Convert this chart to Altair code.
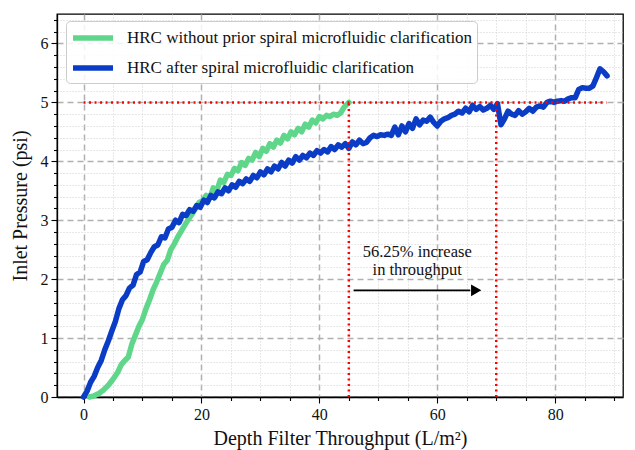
import altair as alt
import pandas as pd

# --- data ---
green_x = [1.0, 1.8, 2.6, 3.4, 4.2, 5.0, 5.8, 6.4, 7.0, 7.6, 8.2, 8.8, 9.4, 10.0, 10.6, 11.2, 11.8, 12.4,
           13.0, 13.6, 14.2, 14.8, 15.4, 16.0, 16.6, 17.2, 17.8, 18.4, 19.0, 19.6, 20.2, 20.8, 21.4, 22.0,
           22.6, 23.2, 23.8, 24.4, 25.0, 25.6, 26.2, 26.8, 27.4, 28.0, 28.6, 29.2, 29.8, 30.4, 31.0, 31.6,
           32.2, 32.8, 33.4, 34.0, 34.6, 35.2, 35.8, 36.4, 37.0, 37.6, 38.2, 38.8, 39.4, 40.0, 40.6, 41.2,
           41.8, 42.4, 43.0, 43.6, 44.2, 45.0]
green_y = [0.0, 0.02, 0.06, 0.12, 0.2, 0.3, 0.42, 0.55, 0.62, 0.68, 0.9, 1.05, 1.2, 1.32, 1.5, 1.65, 1.82, 1.95,
           2.1, 2.25, 2.32, 2.5, 2.6, 2.72, 2.82, 2.92, 3.02, 3.1, 3.2, 3.3, 3.33, 3.42, 3.38, 3.55,
           3.5, 3.68, 3.64, 3.78, 3.76, 3.88, 3.84, 3.98, 3.93, 4.05, 4.02, 4.15, 4.08, 4.22, 4.17, 4.3,
           4.24, 4.36, 4.31, 4.44, 4.38, 4.5, 4.45, 4.56, 4.5, 4.63, 4.58, 4.7, 4.65, 4.76, 4.72, 4.78,
           4.76, 4.8, 4.78, 4.82, 4.92, 5.0]

blue_x = [0.0, 0.6, 1.2, 1.8, 2.4, 3.0, 3.6, 4.2, 4.8, 5.4, 6.0, 6.6, 7.2, 7.8, 8.4, 9.0, 9.6, 10.2, 10.8,
          11.4, 12.0, 12.6, 13.2, 13.8, 14.4, 15.0, 15.6, 16.2, 16.8, 17.4, 18.0, 18.6, 19.2, 19.8, 20.4,
          21.0, 21.6, 22.2, 22.8, 23.4, 24.0, 24.6, 25.2, 25.8, 26.4, 27.0, 27.6, 28.2, 28.8, 29.4, 30.0,
          30.6, 31.2, 31.8, 32.4, 33.0, 33.6, 34.2, 34.8, 35.4, 36.0, 36.6, 37.2, 37.8, 38.4, 39.0, 39.6,
          40.2, 40.8, 41.4, 42.0, 42.6, 43.2, 43.8, 44.4, 45.0, 45.6, 46.2, 46.8, 47.4, 48.0, 48.6, 49.2,
          49.8, 50.4, 51.0, 51.6, 52.2, 52.8, 53.4, 54.0, 54.6, 55.2, 55.8, 56.4, 57.0, 57.6, 58.2, 58.8,
          59.4, 60.0, 60.6, 61.2, 61.8, 62.4, 63.0, 63.6, 64.2, 64.8, 65.4, 66.0, 66.6, 67.2, 67.8, 68.4,
          69.0, 69.6, 70.2, 70.8, 71.4, 72.0, 72.6, 73.2, 73.8, 74.4, 75.0, 75.6, 76.2, 76.8, 77.4, 78.0,
          78.6, 79.2, 79.8, 80.4, 81.0, 81.6, 82.2, 82.8, 83.4, 84.0, 84.6, 85.2, 85.8, 86.4, 87.0, 87.6,
          88.2, 88.8]
blue_y = [0.0, 0.1, 0.25, 0.35, 0.5, 0.62, 0.8, 0.95, 1.12, 1.28, 1.5, 1.65, 1.72, 1.85, 1.9, 2.08, 2.12, 2.3, 2.33,
          2.45, 2.55, 2.58, 2.72, 2.7, 2.85, 2.88, 3.0, 2.96, 3.1, 3.08, 3.18, 3.15, 3.25, 3.22, 3.34,
          3.3, 3.42, 3.38, 3.48, 3.45, 3.55, 3.5, 3.6, 3.56, 3.66, 3.62, 3.7, 3.66, 3.76, 3.72, 3.82,
          3.77, 3.87, 3.82, 3.92, 3.87, 3.98, 3.92, 4.02, 3.97, 4.08, 4.02, 4.1, 4.06, 4.14, 4.1, 4.18,
          4.14, 4.2, 4.16, 4.25, 4.2, 4.28, 4.24, 4.3, 4.22, 4.33, 4.28, 4.36, 4.3, 4.32, 4.4, 4.44,
          4.42, 4.45, 4.44, 4.46, 4.44, 4.58, 4.45, 4.6, 4.5, 4.64, 4.56, 4.72, 4.62, 4.7, 4.68, 4.75,
          4.66, 4.6, 4.68, 4.72, 4.74, 4.78, 4.8, 4.85, 4.82, 4.9, 4.84, 4.95, 4.88, 4.93, 4.87, 4.9,
          4.95, 4.88, 4.98, 4.62, 4.72, 4.85, 4.8, 4.78, 4.86, 4.8, 4.84, 4.9, 4.85, 4.92, 4.94, 4.92,
          5.0, 5.02, 5.0, 5.02, 5.03, 5.02, 5.06, 5.08, 5.08, 5.22, 5.25, 5.24, 5.24, 5.28, 5.42, 5.57,
          5.52, 5.45]

series_names = ["HRC without prior spiral microfluidic clarification",
                "HRC after spiral microfluidic clarification"]
series_colors = ["#5fd68a", "#0a3cc6"]

x_ticks = list(range(0, 95, 5))
y_ticks = [round(i * 0.2, 1) for i in range(33)]

target_pressure = 5.0
h_line_x = [0.0]
h_line_x2 = [88.7]
v_line_x = [45.0, 70.0]
arrow_x = [45.8]
arrow_x2 = [65.6]
arrow_y = [1.81]
arrow_head_x = [66.6]
note_x = [56.6, 56.6]
note_y = [2.46, 2.15]
note_text = ["56.25% increase", "in throughput"]

FONT = "Liberation Serif, 'Times New Roman', Times, serif"

rows = []
for i, (x, y) in enumerate(zip(green_x, green_y)):
    rows.append({"x": x, "y": y, "series": series_names[0], "i": i})
for i, (x, y) in enumerate(zip(blue_x, blue_y)):
    rows.append({"x": x, "y": y, "series": series_names[1], "i": i})
df = pd.DataFrame(rows)

xscale = alt.Scale(domain=[-4.5, 91.5], nice=False, zero=False)
yscale = alt.Scale(domain=[0, 6.5], nice=False)

x_major = "abs(datum.value % 20) < 0.01"
y_major = "abs(datum.value - round(datum.value)) < 0.01"

xaxis = alt.Axis(
    values=x_ticks, tickCount=200, title="Depth Filter Throughput (L/m²)",
    labelExpr=f"{x_major} ? format(datum.value, 'd') : ''",
    labelOverlap=False, labelFlush=False,
    gridDash={"condition": {"test": x_major, "value": [6, 4]}, "value": [1, 2]},
    gridColor={"condition": {"test": x_major, "value": "#b0b0b0"}, "value": "#d0d0d0"},
    gridWidth={"condition": {"test": x_major, "value": 1.5}, "value": 1},
    tickSize={"condition": {"test": x_major, "value": 6}, "value": 3.5},
)
yaxis = alt.Axis(
    values=y_ticks, tickCount=200, title="Inlet Pressure (psi)",
    labelExpr=f"{y_major} ? format(datum.value, 'd') : ''",
    labelOverlap=False, labelFlush=False,
    gridDash={"condition": {"test": y_major, "value": [6, 4]}, "value": [1, 2]},
    gridColor={"condition": {"test": y_major, "value": "#b0b0b0"}, "value": "#d0d0d0"},
    gridWidth={"condition": {"test": y_major, "value": 1.5}, "value": 1},
    tickSize={"condition": {"test": y_major, "value": 6}, "value": 3.5},
)

lines = alt.Chart(df).mark_line(strokeWidth=5.5, strokeJoin="round", strokeCap="round").encode(
    x=alt.X("x:Q", scale=xscale, axis=xaxis),
    y=alt.Y("y:Q", scale=yscale, axis=yaxis),
    color=alt.Color("series:N", scale=alt.Scale(domain=series_names, range=series_colors),
                    legend=alt.Legend(title=None)),
    order=alt.Order("i:Q"),
)

red_style = dict(color="#ff0000", strokeWidth=2.5, strokeDash=[2, 3.5])

hdf = pd.DataFrame({"x": h_line_x, "x2": h_line_x2, "y": [target_pressure]})
hline = alt.Chart(hdf).mark_rule(**red_style).encode(
    x=alt.X("x:Q", scale=xscale), x2="x2:Q", y=alt.Y("y:Q", scale=yscale))

vdf = pd.DataFrame({"x": v_line_x, "y": [0.0] * len(v_line_x), "y2": [target_pressure] * len(v_line_x)})
vline = alt.Chart(vdf).mark_rule(**red_style).encode(
    x=alt.X("x:Q", scale=xscale), y=alt.Y("y:Q", scale=yscale), y2="y2:Q")

adf = pd.DataFrame({"x": arrow_x, "x2": arrow_x2, "y": arrow_y})
arrow = alt.Chart(adf).mark_rule(color="black", strokeWidth=1.6).encode(
    x=alt.X("x:Q", scale=xscale), x2="x2:Q", y=alt.Y("y:Q", scale=yscale))

hdf2 = pd.DataFrame({"x": arrow_head_x, "y": arrow_y})
head = alt.Chart(hdf2).mark_point(shape="triangle-right", filled=True, color="black",
                                  size=140, opacity=1).encode(
    x=alt.X("x:Q", scale=xscale), y=alt.Y("y:Q", scale=yscale))

tdf = pd.DataFrame({"x": note_x, "y": note_y, "t": note_text})
notes = alt.Chart(tdf).mark_text(font=FONT, fontSize=16.5, color="#111111", align="center",
                                 baseline="middle").encode(
    x=alt.X("x:Q", scale=xscale), y=alt.Y("y:Q", scale=yscale), text="t:N")

chart = alt.layer(lines, hline, vline, arrow, head, notes).properties(
    width=566, height=383,
    autosize=alt.AutoSizeParams(type="none"),
    padding={"left": 57, "top": 14, "right": 12, "bottom": 53},
).configure_view(
    stroke="black", strokeWidth=1.3
).configure_axis(
    labelFont=FONT, titleFont=FONT, labelFontSize=16, titleFontSize=20,
    labelColor="#111111", titleColor="#111111", titleFontWeight="normal",
    domainColor="black", domainWidth=1.3, tickColor="black", tickWidth=1.1,
    labelPadding=3,
).configure_axisY(
    titlePadding=10
).configure_axisX(
    titlePadding=6
).configure_legend(
    orient="none", legendX=9, legendY=7,
    fillColor="rgba(255,255,255,0.85)", strokeColor="#cccccc", cornerRadius=4, padding=4,
    labelFont=FONT, labelFontSize=17, labelColor="#111111", labelLimit=500,
    symbolType="M-1,0H3", symbolSize=400, symbolStrokeWidth=5.5, labelOffset=31,
    rowPadding=6,
)

chart.save("out.html", embed_options={"renderer": "svg", "actions": False})
